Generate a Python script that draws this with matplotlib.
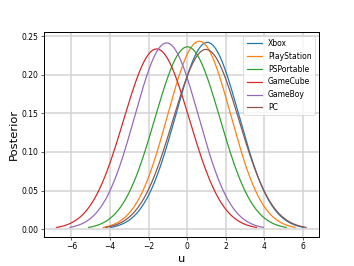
import matplotlib
matplotlib.use('Agg')
import matplotlib.pyplot as plt
import numpy as np

# posterior of each platform: normal with mean / std
platforms = ['Xbox', 'PlayStation', 'PSPortable', 'GameCube', 'GameBoy', 'PC']
means = [1.05, 0.63, 0.02, -1.58, -1.06, 0.98]
stds = [1.65, 1.64, 1.69, 1.71, 1.655, 1.715]
z_range = 3.03  # curves drawn out to about +-3 sigma

fig = plt.figure(figsize=(6.4, 266 / 55.3125), dpi=55.3125)
ax = fig.add_subplot(111)

for name, mu, sd in zip(platforms, means, stds):
    u = np.linspace(mu - z_range * sd, mu + z_range * sd, 300)
    pdf = np.exp(-0.5 * ((u - mu) / sd) ** 2) / (sd * np.sqrt(2 * np.pi))
    ax.plot(u, pdf, label=name, lw=1.6)

ax.set_xticks([-6, -4, -2, 0, 2, 4, 6])
ax.set_yticks([0.0, 0.05, 0.10, 0.15, 0.20, 0.25])
ax.grid(True, lw=2, color='#d4d4d4')
for sp in ax.spines.values():
    sp.set_linewidth(1.3)
ax.set_xlabel('u', fontsize=15)
ax.set_ylabel('Posterior', fontsize=15)
ax.legend(loc='upper right')

plt.savefig('out.png', dpi=55.3125)
